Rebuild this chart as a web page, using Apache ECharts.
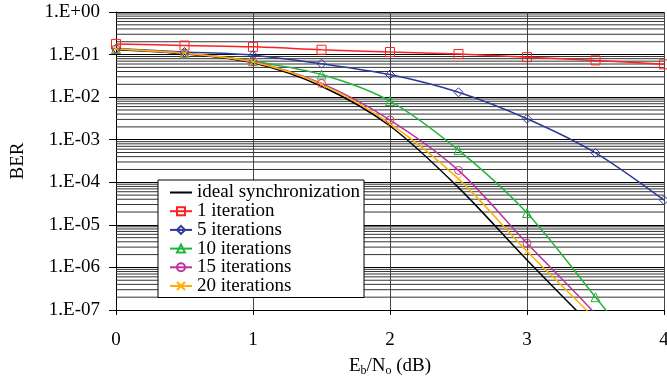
<!DOCTYPE html>
<html>
<head>
<meta charset="utf-8">
<script src="https://cdn.jsdelivr.net/npm/echarts@6/dist/echarts.min.js"></script>
<style>
  html, body { margin: 0; padding: 0; background: #fff; }
  #myChart { width: 667px; height: 384px; }
</style>
</head>
<body>
<div id="myChart"></div>
<script>
  // Eb/No (dB)
  var ebno = [0, 0.5, 1, 1.5, 2, 2.5, 3, 3.5, 4];
  // BER per curve
  var ideal = [0.13, 0.104, 0.064, 0.018, 0.0021, 7.5e-5, 1.5e-6, 3.5e-8, 1e-9];
  var iter1 = [0.178, 0.163, 0.152, 0.13, 0.115, 0.103, 0.087, 0.073, 0.059];
  var iter5 = [0.138, 0.115, 0.097, 0.061, 0.034, 0.013, 0.0031, 4.9e-4, 3.8e-5];
  var iter10 = [0.135, 0.107, 0.07, 0.034, 0.0081, 5.7e-4, 1.9e-5, 2.0e-7, 2e-9];
  var iter15 = [0.135, 0.107, 0.068, 0.021, 0.0029, 1.9e-4, 3.7e-6, 8e-8, 1e-9];
  var iter20 = [0.135, 0.107, 0.067, 0.02, 0.0024, 1.2e-4, 2.4e-6, 6e-8, 1e-9];
  var names = ['ideal synchronization', '1 iteration', '5 iterations', '10 iterations', '15 iterations', '20 iterations'];
  // minor grid values 2..9 x 10^k
  var minorGrid = [];
  for (var k = -7; k < 0; k++) {
    for (var m = 2; m <= 9; m++) minorGrid.push(m * Math.pow(10, k));
  }

  var font = 'Liberation Serif, Times New Roman, serif';
  var myChart = echarts.init(document.getElementById('myChart'));

  function pairs(arr) {
    return arr.map(function (v, i) { return [ebno[i], v]; });
  }

  function curve(name, arr, color, symbol, size) {
    return {
      name: name,
      type: 'line',
      z: 3,
      smooth: 0.3,
      animation: false,
      symbol: symbol,
      symbolSize: size,
      showSymbol: symbol !== 'none',
      lineStyle: { color: color, width: 1.5 },
      itemStyle: { color: 'rgba(255,255,255,0)', borderColor: color, borderWidth: 1 },
      data: pairs(arr)
    };
  }

  var option = {
    animation: false,
    grid: { left: 116, right: 3, top: 12, bottom: 74, outerBoundsMode: 'none' },
    legend: {
      data: [{ name: names[0], itemStyle: { opacity: 0 } }].concat(names.slice(1)),
      orient: 'vertical',
      left: 158,
      top: 180,
      backgroundColor: '#fff',
      borderColor: '#000',
      borderWidth: 1,
      borderRadius: 0,
      padding: [3, 4, 2, 11],
      itemGap: -0.3,
      itemWidth: 22,
      itemHeight: 10,
      textStyle: { fontFamily: font, fontSize: 19, color: '#000', lineHeight: 18 }
    },
    xAxis: {
      type: 'value',
      min: 0,
      max: 4,
      interval: 1,
      name: 'E{sub|b}/N{sub|o} (dB)',
      nameLocation: 'middle',
      nameGap: 46,
      nameTextStyle: {
        fontFamily: font, fontSize: 19, color: '#000',
        rich: { sub: { fontFamily: font, fontSize: 12, color: '#000', verticalAlign: 'bottom', padding: [9, 0, 0, 0] } }
      },
      axisLine: { lineStyle: { color: '#000', width: 1 } },
      axisTick: { show: true, length: 5, lineStyle: { color: '#000' } },
      axisLabel: { fontFamily: font, fontSize: 19, color: '#000', margin: 21 },
      splitLine: { show: true, lineStyle: { color: '#444', width: 1 } }
    },
    yAxis: {
      type: 'log',
      logBase: 10,
      min: 1e-7,
      max: 1,
      interval: 1,
      name: 'BER',
      nameLocation: 'middle',
      nameGap: 88,
      nameTextStyle: { fontFamily: font, fontSize: 19, color: '#000' },
      axisLine: { show: true, lineStyle: { color: '#000', width: 1 } },
      axisTick: { show: true, length: 7, lineStyle: { color: '#000' } },
      axisLabel: {
        fontFamily: font, fontSize: 19, color: '#000', margin: 16,
        formatter: function (v) {
          var e = Math.round(Math.log10(v));
          var s = Math.abs(e) < 10 ? '0' + Math.abs(e) : '' + Math.abs(e);
          return '1.E' + (e >= 0 ? '+' : '-') + s;
        }
      },
      splitLine: { show: true, lineStyle: { color: '#000', width: 1 } }
    },
    series: [
      {
        // minor horizontal grid lines of the log axis
        name: 'minor grid',
        type: 'custom',
        z: 1,
        silent: true,
        animation: false,
        encode: { x: 0, y: 1 },
        renderItem: function (params, api) {
          var v = api.value(1);
          var p1 = api.coord([0, v]);
          var p2 = api.coord([4, v]);
          return {
            type: 'line',
            shape: { x1: p1[0], y1: p1[1], x2: p2[0], y2: p2[1] },
            style: { stroke: '#333', lineWidth: 1 }
          };
        },
        data: minorGrid.map(function (v) { return [0, v]; })
      },
      curve(names[0], ideal, '#000000', 'none', 0),
      curve(names[1], iter1, '#ff2020', 'rect', 9),
      curve(names[2], iter5, '#2b3a9a', 'diamond', 9),
      curve(names[3], iter10, '#22b53a', 'triangle', 9),
      curve(names[4], iter15, '#c0309a', 'circle', 8),
      curve(names[5], iter20, '#ffb000', 'path://M0,0L10,10M10,0L0,10', 8)
    ]
  };

  myChart.setOption(option);
</script>
</body>
</html>
